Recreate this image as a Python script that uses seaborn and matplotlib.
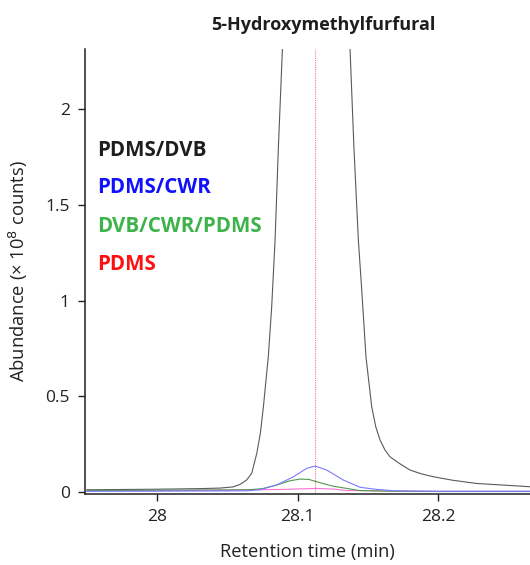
import numpy as np
import pandas as pd
import matplotlib
matplotlib.use("Agg")
import matplotlib.pyplot as plt
import seaborn as sns

# ---- data ----
t_black = [27.95, 28.0, 28.03, 28.045, 28.054, 28.059, 28.0637, 28.0673, 28.0709, 28.0735,
           28.0756, 28.0791, 28.0815, 28.0839, 28.0862, 28.0891, 28.095, 28.112, 28.13, 28.1372,
           28.140, 28.1431, 28.1455, 28.1485, 28.1526, 28.1555, 28.1585, 28.1620, 28.1656,
           28.1722, 28.1798, 28.1880, 28.1964, 28.2100, 28.2272, 28.2651]
y_black = [0.012, 0.015, 0.018, 0.021, 0.027, 0.040, 0.063, 0.098, 0.202, 0.31,
           0.445, 0.707, 0.968, 1.316, 1.79, 2.31, 3.2, 4.5, 3.2, 2.31,
           1.79, 1.316, 1.055, 0.707, 0.445, 0.34, 0.272, 0.22, 0.184,
           0.15, 0.115, 0.095, 0.08, 0.062, 0.045, 0.028]

t_blue = [27.95, 28.0, 28.05, 28.065, 28.073, 28.085, 28.097, 28.1064, 28.1125, 28.1206,
          28.1324, 28.1443, 28.156, 28.17, 28.2, 28.2651]
y_blue = [0.004, 0.005, 0.006, 0.007, 0.012, 0.037, 0.08, 0.124, 0.136, 0.115,
          0.063, 0.025, 0.014, 0.006, 0.004, 0.004]

t_green = [27.95, 28.0, 28.05, 28.065, 28.075, 28.085, 28.0945, 28.1016, 28.1080, 28.1135,
           28.125, 28.135, 28.144, 28.17, 28.2, 28.2651]
y_green = [0.008, 0.01, 0.011, 0.012, 0.018, 0.037, 0.059, 0.068, 0.066, 0.054,
           0.031, 0.019, 0.008, 0.004, 0.003, 0.003]

t_pdms = [27.95, 28.0, 28.06, 28.09, 28.1125, 28.125, 28.135, 28.17, 28.2, 28.2651]
y_pdms = [0.006, 0.007, 0.012, 0.014, 0.019, 0.016, 0.008, 0.006, 0.004, 0.004]

series_names = ["PDMS/DVB", "PDMS/CWR", "DVB/CWR/PDMS", "PDMS"]
line_colors = ["#5a5a5a", "#7a7aff", "#4f9a4f", "#ff70d8"]
label_colors = ["#1e1e1e", "#1010ff", "#3db34a", "#ff1010"]
marker_time = 28.1123

title = "5-Hydroxymethylfurfural"
xlabel = "Retention time (min)"
ylabel = "Abundance (× 10$^{8}$ counts)"
xticks = [28.0, 28.1, 28.2]
xticklabels = ["28", "28.1", "28.2"]
yticks = [0, 0.5, 1.0, 1.5, 2.0]
yticklabels = ["0", "0.5", "1", "1.5", "2"]

df = pd.concat([
    pd.DataFrame({"t": t_black, "v": y_black, "s": series_names[0]}),
    pd.DataFrame({"t": t_blue, "v": y_blue, "s": series_names[1]}),
    pd.DataFrame({"t": t_green, "v": y_green, "s": series_names[2]}),
    pd.DataFrame({"t": t_pdms, "v": y_pdms, "s": series_names[3]}),
], ignore_index=True)

sns.set_theme(style="ticks")
plt.rcParams["font.family"] = ["Open Sans", "DejaVu Sans"]

W, H = 530, 565
fig = plt.figure(figsize=(W / 100, H / 100), dpi=100)
ax = fig.add_axes([85 / W, (H - 494) / H, 445 / W, (494 - 49) / H])

order = [series_names[3], series_names[2], series_names[1], series_names[0]]
for name in order:
    i = series_names.index(name)
    sub = df[df["s"] == name]
    sns.lineplot(data=sub, x="t", y="v", ax=ax, color=line_colors[i], lw=0.8,
                 estimator=None, sort=True, legend=False, zorder=3 if i else 2)

ax.axvline(marker_time, color="#e88080", lw=0.8, ls=(0, (1, 1)), zorder=1)

ax.set_xlim(27.9488, 28.2651)
ax.set_ylim(-0.01, 2.313)
ax.set_xticks(xticks)
ax.set_xticklabels(xticklabels, fontsize=12.5)
ax.set_yticks(yticks)
ax.set_yticklabels(yticklabels, fontsize=12.5)
ax.tick_params(axis="both", direction="out", length=5, width=1, color="#222222",
               labelcolor="#222222", pad=6)
for sp in ["top", "right"]:
    ax.spines[sp].set_visible(False)
for sp in ["left", "bottom"]:
    ax.spines[sp].set_color("#222222")
    ax.spines[sp].set_linewidth(1.1)

ax.set_xlabel(xlabel, fontsize=13.2, color="#222222", labelpad=13)
ax.set_ylabel(ylabel, fontsize=13.2, color="#222222", labelpad=11)

fig.text(323 / W, 1 - 25 / H, title, ha="center", va="center",
         fontsize=13, fontweight="bold", color="#1e1e1e")

label_y = [150, 188, 227, 264]
for name, c, yy in zip(series_names, label_colors, label_y):
    fig.text(97 / W, 1 - yy / H, name, ha="left", va="center", fontsize=14.8,
             fontweight="bold", color=c)

fig.savefig("out.png", dpi=100)
